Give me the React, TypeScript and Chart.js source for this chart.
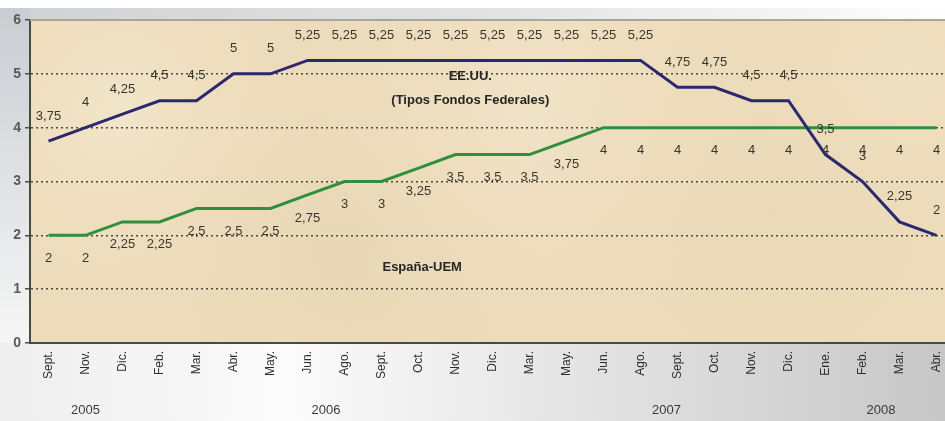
import React, { useEffect, useRef } from 'react';
import { Chart, registerables } from 'chart.js';

Chart.register(...registerables);

const months = ['Sept.', 'Nov.', 'Dic.', 'Feb.', 'Mar.', 'Abr.', 'May.', 'Jun.', 'Ago.', 'Sept.', 'Oct.', 'Nov.', 'Dic.', 'Mar.', 'May.', 'Jun.', 'Ago.', 'Sept.', 'Oct.', 'Nov.', 'Dic.', 'Ene.', 'Feb.', 'Mar.', 'Abr.'];
const usRates = [3.75, 4, 4.25, 4.5, 4.5, 5, 5, 5.25, 5.25, 5.25, 5.25, 5.25, 5.25, 5.25, 5.25, 5.25, 5.25, 4.75, 4.75, 4.5, 4.5, 3.5, 3, 2.25, 2];
const spainRates = [2, 2, 2.25, 2.25, 2.5, 2.5, 2.5, 2.75, 3, 3, 3.25, 3.5, 3.5, 3.5, 3.75, 4, 4, 4, 4, 4, 4, 4, 4, 4, 4];
const years = ['2005', '2006', '2007', '2008'];
const yearIndex = [1, 7.5, 16.7, 22.5];
const usTitle = ['EE.UU.', '(Tipos Fondos Federales)'];
const spainTitle = 'España-UEM';

const FONT = '"Liberation Sans", Arial, sans-serif';

const fmt = (v: number) => String(v).replace('.', ',');

const bgPlugin = {
  id: 'bgPlugin',
  beforeDraw(chart: any) {
    const { ctx, width, height, chartArea: a } = chart;
    ctx.save();
    const g = ctx.createLinearGradient(0, 0, width, 0);
    g.addColorStop(0, '#eeeeee');
    g.addColorStop(0.3, '#fbfbfb');
    g.addColorStop(0.6, '#e4e4e4');
    g.addColorStop(1, '#c6c6c6');
    ctx.fillStyle = g;
    ctx.fillRect(0, 0, width, height);
    const t = ctx.createLinearGradient(0, 0, width, 0);
    t.addColorStop(0, '#cfd2d5');
    t.addColorStop(0.5, '#e2e2e2');
    t.addColorStop(0.85, '#f6f6f6');
    t.addColorStop(1, '#ffffff');
    ctx.fillStyle = t;
    ctx.fillRect(0, 8, width, a.top - 8);
    ctx.fillStyle = '#ffffff';
    ctx.fillRect(0, 0, width, 8);
    const l = ctx.createLinearGradient(0, 8, 0, a.bottom);
    l.addColorStop(0, '#c9cdd2');
    l.addColorStop(0.5, '#dfe1e3');
    l.addColorStop(1, '#f6f6f6');
    ctx.fillStyle = l;
    ctx.fillRect(0, 8, a.left, a.bottom - 8);
    ctx.fillStyle = '#eddcba';
    ctx.fillRect(a.left, a.top, a.right - a.left, a.bottom - a.top);
    const blobs = [
      [0.1, 0.3, 0.25, 'rgba(245,235,212,0.6)'],
      [0.35, 0.7, 0.3, 'rgba(228,210,175,0.5)'],
      [0.55, 0.25, 0.3, 'rgba(243,232,208,0.6)'],
      [0.8, 0.6, 0.3, 'rgba(232,214,180,0.5)'],
      [0.95, 0.15, 0.2, 'rgba(240,228,200,0.5)'],
    ];
    const w = a.right - a.left;
    const h = a.bottom - a.top;
    for (const [fx, fy, fr, c] of blobs as any) {
      const cx = a.left + fx * w;
      const cy = a.top + fy * h;
      const r = fr * w;
      const rg = ctx.createRadialGradient(cx, cy, 0, cx, cy, r);
      rg.addColorStop(0, c);
      rg.addColorStop(1, 'rgba(236,220,188,0)');
      ctx.fillStyle = rg;
      ctx.fillRect(a.left, a.top, w, h);
    }
    ctx.restore();
  },
  afterDraw(chart: any) {
    const { ctx, chartArea: a } = chart;
    ctx.save();
    ctx.strokeStyle = '#a9a59c';
    ctx.lineWidth = 2;
    ctx.beginPath();
    ctx.moveTo(a.left, a.top);
    ctx.lineTo(a.right, a.top);
    ctx.stroke();
    ctx.restore();
  },
};

const labelPlugin = {
  id: 'labelPlugin',
  afterDatasetsDraw(chart: any) {
    const { ctx } = chart;
    const xs = chart.scales.x;
    const ys = chart.scales.y;
    ctx.save();
    ctx.font = `13px ${FONT}`;
    ctx.fillStyle = '#38362f';
    ctx.textAlign = 'center';
    ctx.textBaseline = 'middle';
    usRates.forEach((v, i) => {
      ctx.fillText(fmt(v), xs.getPixelForValue(i), ys.getPixelForValue(v) - 25);
    });
    spainRates.forEach((v, i) => {
      ctx.fillText(fmt(v), xs.getPixelForValue(i), ys.getPixelForValue(v) + 23);
    });
    ctx.font = `bold 13px ${FONT}`;
    ctx.fillStyle = '#262626';
    const ux = xs.getPixelForValue(11.4);
    ctx.fillText(usTitle[0], ux, ys.getPixelForValue(4.95));
    ctx.fillText(usTitle[1], ux, ys.getPixelForValue(4.5));
    ctx.fillText(spainTitle, xs.getPixelForValue(10.1), ys.getPixelForValue(1.41));
    ctx.font = `13px ${FONT}`;
    ctx.fillStyle = '#3a3a3a';
    years.forEach((y, i) => {
      ctx.fillText(y, xs.getPixelForValue(yearIndex[i]), 410);
    });
    ctx.restore();
  },
};

export default function App() {
  const ref = useRef<HTMLCanvasElement>(null);
  useEffect(() => {
    if (!ref.current) return;
    const chart = new Chart(ref.current, {
      type: 'line',
      data: {
        labels: months,
        datasets: [
          {
            label: 'EE.UU.',
            data: usRates,
            borderColor: '#2c2870',
            borderWidth: 3,
            pointRadius: 0,
            tension: 0,
          },
          {
            label: 'España-UEM',
            data: spainRates,
            borderColor: '#2f8f3c',
            borderWidth: 3,
            pointRadius: 0,
            tension: 0,
          },
        ],
      },
      options: {
        responsive: false,
        animation: false,
        events: [],
        layout: { padding: { top: 20, right: 5, left: 0, bottom: 0 } },
        plugins: { legend: { display: false }, tooltip: { enabled: false } },
        scales: {
          x: {
            offset: true,
            grid: { display: false, drawTicks: false },
            border: { display: true, color: '#4a4a44', width: 2 },
            ticks: {
              autoSkip: false,
              maxRotation: 90,
              minRotation: 90,
              padding: 8,
              color: '#2e2e2e',
              font: { family: FONT, size: 12 },
            },
            afterFit(scale: any) {
              scale.height = 78;
            },
          },
          y: {
            min: 0,
            max: 6,
            ticks: {
              stepSize: 1,
              color: '#5a5a5a',
              padding: 4,
              font: { family: FONT, size: 14, weight: 'bold' },
            },
            grid: {
              color: '#4e4a40',
              lineWidth: 1.5,
              tickLength: 5,
              tickColor: '#4e4a40',
            },
            border: { display: true, color: '#4a4a44', width: 2, dash: [2, 3] },
            afterFit(scale: any) {
              scale.width = 30;
            },
          },
        },
      },
      plugins: [bgPlugin, labelPlugin],
    });
    return () => chart.destroy();
  }, []);
  return (
    <div style={{ position: 'fixed', left: 0, top: 0, width: 945, height: 421, overflow: 'hidden' }}>
      <canvas ref={ref} width={960} height={421} style={{ display: 'block', width: 960, height: 421 }} />
    </div>
  );
}
